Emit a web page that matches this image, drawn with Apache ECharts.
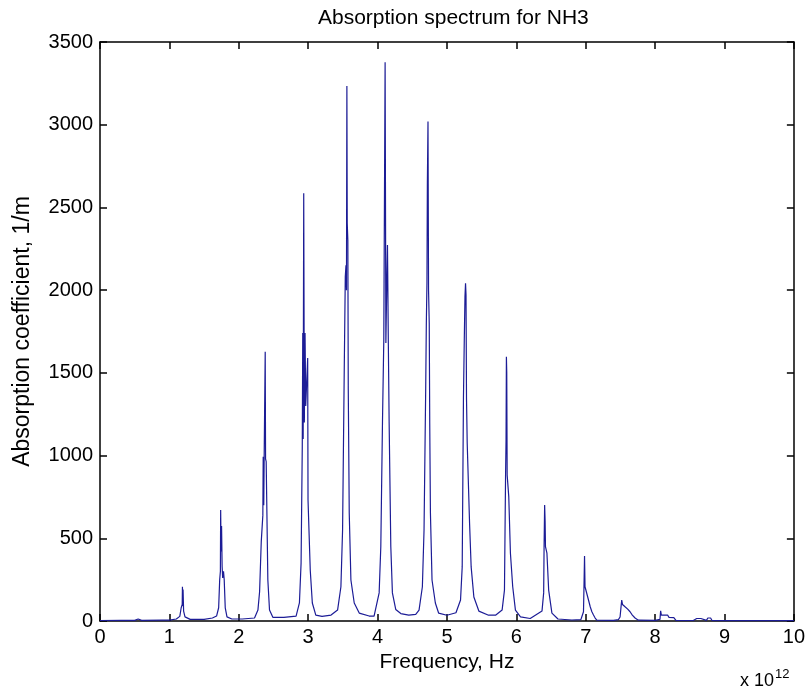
<!DOCTYPE html>
<html lang="en">
<head>
<meta charset="UTF-8" />
<title>Absorption spectrum for NH3</title>
<style>
  * { margin: 0; padding: 0; box-sizing: border-box; }
  html, body { background: #fff; }
  #chart { width: 808px; height: 693px; }
</style>
</head>
<body>
<div id="chart"></div>
<script src="https://cdn.jsdelivr.net/npm/echarts@6/dist/echarts.min.js"></script>
<script>
// frequency in units of 1e12 Hz
const freq = [
  0.00, 0.30, 0.50, 0.55, 0.60, 0.90,
  1.00, 1.10, 1.15, 1.17, 1.185, 1.188, 1.192, 1.197, 1.205, 1.225, 1.30,
  1.50, 1.62, 1.68, 1.71, 1.725, 1.735, 1.739, 1.745, 1.752, 1.76, 1.768, 1.78, 1.79, 1.805, 1.83, 1.90,
  2.05, 2.227, 2.276, 2.30, 2.324, 2.347, 2.352, 2.36, 2.366, 2.381, 2.386, 2.395, 2.419, 2.443, 2.491,
  2.65, 2.826, 2.874, 2.898, 2.915, 2.922, 2.928, 2.936, 2.945, 2.955, 2.965, 2.993, 2.998, 3.03, 3.06, 3.11,
  3.20, 3.33, 3.424, 3.472, 3.496, 3.52, 3.535, 3.545, 3.552, 3.558, 3.563, 3.572, 3.578, 3.592, 3.616, 3.664, 3.736, 3.879,
  3.95, 4.023, 4.047, 4.071, 4.09, 4.109, 4.12, 4.135, 4.143, 4.155, 4.167, 4.191, 4.214, 4.262, 4.335, 4.45,
  4.55, 4.598, 4.646, 4.67, 4.694, 4.703, 4.712, 4.718, 4.727, 4.735, 4.745, 4.752, 4.762, 4.785, 4.833, 4.88, 5.00,
  5.13, 5.196, 5.22, 5.238, 5.25, 5.26, 5.268, 5.275, 5.282, 5.292, 5.326, 5.349, 5.388, 5.46, 5.60,
  5.70, 5.795, 5.829, 5.845, 5.852, 5.857, 5.862, 5.868, 5.891, 5.915, 5.948, 5.987, 6.06,
  6.20, 6.37, 6.394, 6.40, 6.408, 6.415, 6.42, 6.441, 6.466, 6.513, 6.60,
  6.80, 6.93, 6.944, 6.968, 6.975, 6.983, 6.99, 7.016, 7.04, 7.065, 7.089, 7.112, 7.136, 7.16,
  7.40, 7.471, 7.495, 7.51, 7.519, 7.53, 7.543, 7.567, 7.605, 7.639, 7.672, 7.711, 7.759,
  8.00, 8.07, 8.08, 8.09, 8.18, 8.20, 8.27, 8.30,
  8.55, 8.60, 8.66, 8.68, 8.74, 8.76, 8.80, 8.82, 9.00, 10.00
];
// absorption coefficient, 1/m
const alpha = [
  3, 4, 4, 12, 4, 5,
  5, 12, 28, 80, 100, 207, 90, 190, 60, 25, 10,
  10, 18, 30, 80, 250, 300, 671, 420, 574, 330, 260, 300, 250, 80, 25, 12,
  12, 18, 66, 177, 480, 640, 993, 700, 993, 1628, 980, 963, 248, 66, 22,
  22, 30, 109, 350, 1052, 1741, 1100, 2586, 1200, 1741, 1300, 1590, 731, 308, 109, 35,
  28, 36, 66, 207, 550, 1517, 2081, 2150, 2000, 3234, 2406, 2300, 1400, 653, 248, 109, 48, 30,
  30, 170, 450, 1200, 1700, 3378, 1680, 2100, 2273, 1700, 1200, 450, 170, 70, 45, 35,
  40, 66, 207, 550, 1408, 1802, 2044, 2646, 3019, 2000, 1800, 1200, 653, 248, 109, 48, 35,
  50, 127, 327, 1346, 1700, 1961, 2042, 1971, 1346, 1076, 592, 327, 145, 60, 35,
  35, 66, 187, 882, 1100, 1598, 1500, 882, 752, 410, 207, 66, 25,
  15, 60, 170, 449, 701, 600, 449, 410, 187, 48, 12,
  6, 8, 26, 56, 207, 393, 207, 200, 127, 86, 56, 36, 18, 5,
  4, 8, 24, 90, 127, 100, 109, 86, 72, 56, 36, 18, 5,
  4, 10, 62, 36, 36, 22, 20, 4,
  3, 15, 15, 4, 4, 18, 18, 3, 2, 2
];

const xTicks = [0, 10, 1];      // min, max, step
const yTicks = [0, 3500, 500];

const font = 'Liberation Sans, Arial, sans-serif';
const chart = echarts.init(document.getElementById('chart'), null, { renderer: 'canvas' });

const spectrum = freq.map((f, i) => [f, alpha[i]]);

// box axes, ticks pointing inwards like matlab
const axisCommon = {
  axisLine: { show: true, onZero: false, lineStyle: { color: '#000', width: 1.5 } },
  axisTick: { show: true, inside: true, length: 7, lineStyle: { color: '#000', width: 1.5 } },
  splitLine: { show: false }
};

chart.setOption({
  animation: false,
  backgroundColor: '#fff',
  title: {
    text: 'Absorption spectrum for NH3',
    left: 313,
    top: 3,
    textStyle: { fontFamily: font, fontSize: 21, fontWeight: 'normal', color: '#000' }
  },
  grid: { left: 100, top: 42, right: 12, bottom: 72, containLabel: false },
  xAxis: [
    {
      ...axisCommon,
      type: 'value', position: 'bottom',
      min: xTicks[0], max: xTicks[1], interval: xTicks[2],
      name: 'Frequency, Hz', nameLocation: 'middle', nameGap: 30,
      nameTextStyle: { fontFamily: font, fontSize: 21, color: '#000' },
      axisLabel: { fontFamily: font, fontSize: 20, color: '#000', margin: 6, formatter: v => String(v) }
    },
    {
      ...axisCommon,
      type: 'value', position: 'top',
      min: xTicks[0], max: xTicks[1], interval: xTicks[2],
      axisLabel: { show: false }
    }
  ],
  yAxis: [
    {
      ...axisCommon,
      type: 'value', position: 'left',
      min: yTicks[0], max: yTicks[1], interval: yTicks[2],
      name: 'Absorption coefficient, 1/m', nameLocation: 'middle', nameGap: 66,
      nameTextStyle: { fontFamily: font, fontSize: 23, color: '#000' },
      axisLabel: { fontFamily: font, fontSize: 20, color: '#000', margin: 7, formatter: v => String(v) }
    },
    {
      ...axisCommon,
      type: 'value', position: 'right',
      min: yTicks[0], max: yTicks[1], interval: yTicks[2],
      axisLabel: { show: false }
    }
  ],
  graphic: [
    {
      type: 'text', left: 740, top: 668,
      style: {
        text: 'x 10{s|12}',
        fontFamily: font, fontSize: 18, fill: '#000',
        rich: { s: { fontFamily: font, fontSize: 13, verticalAlign: 'top', padding: [0, 0, 14, 1] } }
      }
    }
  ],
  series: [
    {
      type: 'line',
      xAxisIndex: 0, yAxisIndex: 0,
      data: spectrum,
      showSymbol: false,
      lineStyle: { color: '#1c1c96', width: 1.2 },
      silent: true
    }
  ]
});
</script>
</body>
</html>
